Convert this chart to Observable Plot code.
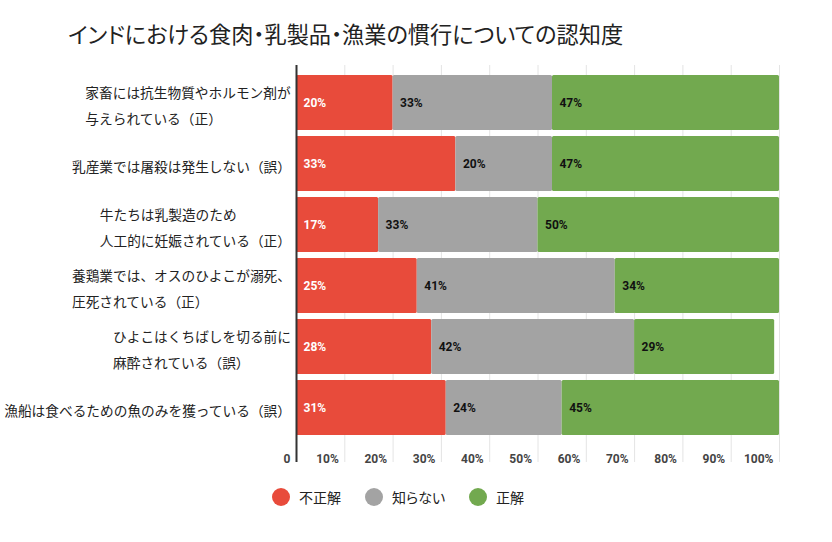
<!DOCTYPE html>
<html><head><meta charset="utf-8">
<script src="https://cdn.jsdelivr.net/npm/d3@7"></script>
<script src="https://cdn.jsdelivr.net/npm/@observablehq/plot@0.6"></script>
<style>
body{margin:0;background:#fff;width:832px;height:542px;overflow:hidden;font-family:"Noto Sans CJK JP",sans-serif;}
#title{height:60px;box-sizing:border-box;padding-left:68px;padding-top:19px;font-size:22.2px;line-height:28px;color:#222;font-feature-settings:"palt";white-space:nowrap;}
#chart svg{display:block;}
#legend{display:flex;align-items:center;padding-left:272px;margin-top:13px;height:18px;font-size:14px;color:#222;font-feature-settings:"palt";}
#legend .item{display:flex;align-items:center;margin-right:24px;}
#legend .dot{width:18px;height:18px;border-radius:50%;margin-right:9px;}
</style>
</head><body>
<div id="title">インドにおける食肉・乳製品・漁業の慣行についての認知度</div>
<div id="chart"></div>
<div id="legend"></div>
<script>
const questions = [
  "家畜には抗生物質やホルモン剤が\n与えられている（正）",
  "乳産業では屠殺は発生しない（誤）",
  "牛たちは乳製造のため\n人工的に妊娠されている（正）",
  "養鶏業では、オスのひよこが溺死、\n圧死されている（正）",
  "ひよこはくちばしを切る前に\n麻酔されている（誤）",
  "漁船は食べるための魚のみを獲っている（誤）"
];
const categories = ["不正解", "知らない", "正解"];
const incorrect = [20, 33, 17, 25, 28, 31];
const unknown   = [33, 20, 33, 41, 42, 24];
const correct   = [47, 47, 50, 34, 29, 45];
const ticks = [0, 10, 20, 30, 40, 50, 60, 70, 80, 90, 100];
const colors = ["#e84b3b", "#a3a3a3", "#72a94f"];

const seriesValues = [incorrect, unknown, correct];
const data = [];
questions.forEach((q, i) => {
  categories.forEach((c, j) => data.push({q, cat: c, value: seriesValues[j][i]}));
});

const chart = Plot.plot({
  width: 832,
  height: 415,
  marginLeft: 296,
  marginRight: 53,
  marginTop: 5,
  marginBottom: 13,
  style: {fontFamily: "Roboto, 'Noto Sans CJK JP', sans-serif", background: "#fff"},
  x: {domain: [0, 100], axis: null},
  y: {domain: questions, padding: 0.1, insetTop: 1.3, insetBottom: 19.3, axis: null},
  color: {domain: categories, range: colors},
  marks: [
    Plot.ruleX(ticks, {stroke: "#e4e4e4", strokeWidth: 1}),
    Plot.barX(data, Plot.stackX({x: "value", y: "q", fill: "cat", order: categories, rx: 1.5})),
    Plot.text(data, Plot.stackX1({
      x: "value", y: "q", z: "cat", order: categories,
      text: d => d.value + "%",
      fill: d => d.cat === "不正解" ? "#fff" : "#111",
      textAnchor: "start", dx: 7, fontSize: 12, fontWeight: "bold"
    })),
    Plot.ruleX([0], {stroke: "#333", strokeWidth: 2}),
    Plot.axisX({
      ticks, tickSize: 0, tickFormat: d => d === 0 ? "0" : d + "%", label: null,
      textAnchor: "end", dx: -6, dy: -17, fontSize: 12, fontWeight: "bold", fill: "#444"
    }),
    Plot.axisY({
      tickSize: 0, textAnchor: "start", lineHeight: 1.85, fontSize: 13.7, label: null,
      fill: "#222", fontFamily: "'Noto Sans CJK JP', sans-serif"
    })
  ]
});
document.getElementById("chart").appendChild(chart);

// right-align each y label block while keeping its lines left-aligned
const svgRect = chart.getBoundingClientRect();
chart.querySelectorAll('g[aria-label="y-axis tick label"] text').forEach(el => {
  const r = el.getBoundingClientRect();
  const right = r.right - svgRect.left;
  const dx = 291 - right;
  el.setAttribute("transform", (el.getAttribute("transform") || "") + ` translate(${dx},0)`);
});

const legend = document.getElementById("legend");
categories.forEach((c, i) => {
  const item = document.createElement("div");
  item.className = "item";
  const dot = document.createElement("span");
  dot.className = "dot";
  dot.style.background = colors[i];
  const label = document.createElement("span");
  label.textContent = c;
  item.appendChild(dot);
  item.appendChild(label);
  legend.appendChild(item);
});
</script>
</body></html>
